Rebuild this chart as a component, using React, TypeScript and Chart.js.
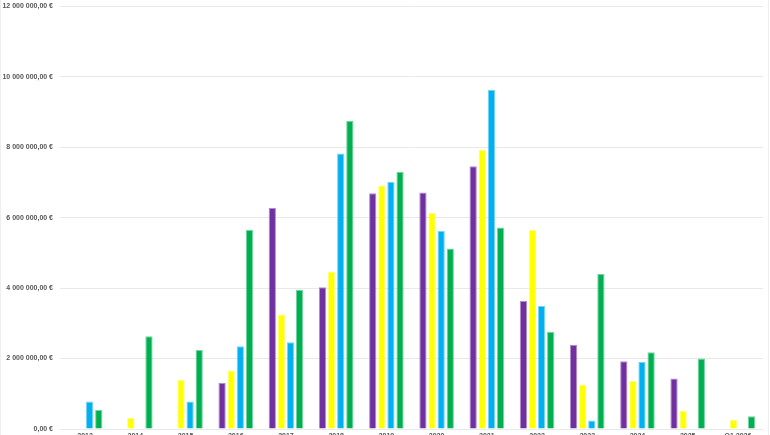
import React, { useEffect, useRef } from "react";
import { Chart, registerables } from "chart.js";

Chart.register(...registerables);

const categories = ["2013", "2014", "2015", "2016", "2017", "2018", "2019", "2020", "2021", "2022", "2023", "2024", "2025", "Q1 2026"];

const M = 1000000;
const purpleValues = [null, null, null, 1.31, 6.27, 4.02, 6.69, 6.71, 7.46, 3.63, 2.39, 1.92, 1.43, null];
const yellowValues = [null, 0.32, 1.40, 1.66, 3.25, 4.46, 6.91, 6.13, 7.92, 5.65, 1.26, 1.37, 0.52, 0.26];
const blueValues = [0.78, null, 0.78, 2.35, 2.46, 7.82, 7.02, 5.62, 9.63, 3.49, 0.24, 1.90, null, null];
const greenValues = [0.54, 2.63, 2.24, 5.65, 3.95, 8.75, 7.30, 5.12, 5.72, 2.76, 4.40, 2.18, 2.00, 0.36];

const yTicks = [0, 2, 4, 6, 8, 10, 12];

const toEuros = (arr: (number | null)[]) => arr.map((v) => (v === null ? null : Math.round(v * M)));

function fmt(v: number): string {
  const s = Math.round(v).toString().replace(/\B(?=(\d{3})+(?!\d))/g, " ");
  return s + ",00 €";
}

export default function App() {
  const ref = useRef<HTMLCanvasElement | null>(null);

  useEffect(() => {
    if (!ref.current) return;
    const mk = (label: string, data: (number | null)[], color: string, border: string) => ({
      label,
      data: toEuros(data),
      backgroundColor: color,
      borderColor: border,
      borderWidth: 1,
      categoryPercentage: 0.725,
      barPercentage: 0.8,
    });
    const chart = new Chart(ref.current, {
      type: "bar",
      data: {
        labels: categories,
        datasets: [
          mk("Série 1", purpleValues, "#7030A0", "rgba(112,48,160,0.55)"),
          mk("Série 2", yellowValues, "#FFFF00", "rgba(255,255,0,0.55)"),
          mk("Série 3", blueValues, "#00B0F0", "rgba(0,176,240,0.55)"),
          mk("Série 4", greenValues, "#00B050", "rgba(0,176,80,0.55)"),
        ],
      },
      options: {
        animation: false,
        responsive: false,
        layout: { padding: { top: 0, right: 5, left: 0, bottom: 0 } },
        plugins: { legend: { display: false }, tooltip: { enabled: false } },
        scales: {
          x: {
            grid: { display: false, drawTicks: false },
            border: { display: false },
            afterFit: (scale: any) => {
              scale.height = 14;
            },
            ticks: {
              color: "#555555",
              font: { family: "Liberation Sans, Arial, sans-serif", size: 7, weight: "bold" },
              padding: 3,
              maxRotation: 0,
              autoSkip: false,
            },
          },
          y: {
            min: 0,
            max: yTicks[yTicks.length - 1] * M,
            afterFit: (scale: any) => {
              scale.width = 59;
            },
            afterBuildTicks: (scale: any) => {
              scale.ticks = yTicks.map((t) => ({ value: t * M }));
            },
            grid: { color: "#e9e9e9", drawTicks: false, lineWidth: 1 },
            border: { display: false },
            ticks: {
              color: "#555555",
              font: { family: "Liberation Sans, Arial, sans-serif", size: 7, weight: "bold" },
              padding: 7,
              callback: (v: any) => fmt(Number(v)),
            },
          },
        },
      },
    });
    return () => chart.destroy();
  }, []);

  return (
    <div
      style={{
        position: "absolute",
        left: 0,
        top: 0,
        width: 769,
        height: 440,
        overflow: "hidden",
        boxSizing: "border-box",
        borderLeft: "1px solid #eeeeee",
        borderRight: "1px solid #eeeeee",
        background: "#ffffff",
      }}
    >
      <canvas
        ref={ref}
        width={767}
        height={448}
        style={{ display: "block", width: 767, height: 448, marginTop: -5 }}
      />
    </div>
  );
}
